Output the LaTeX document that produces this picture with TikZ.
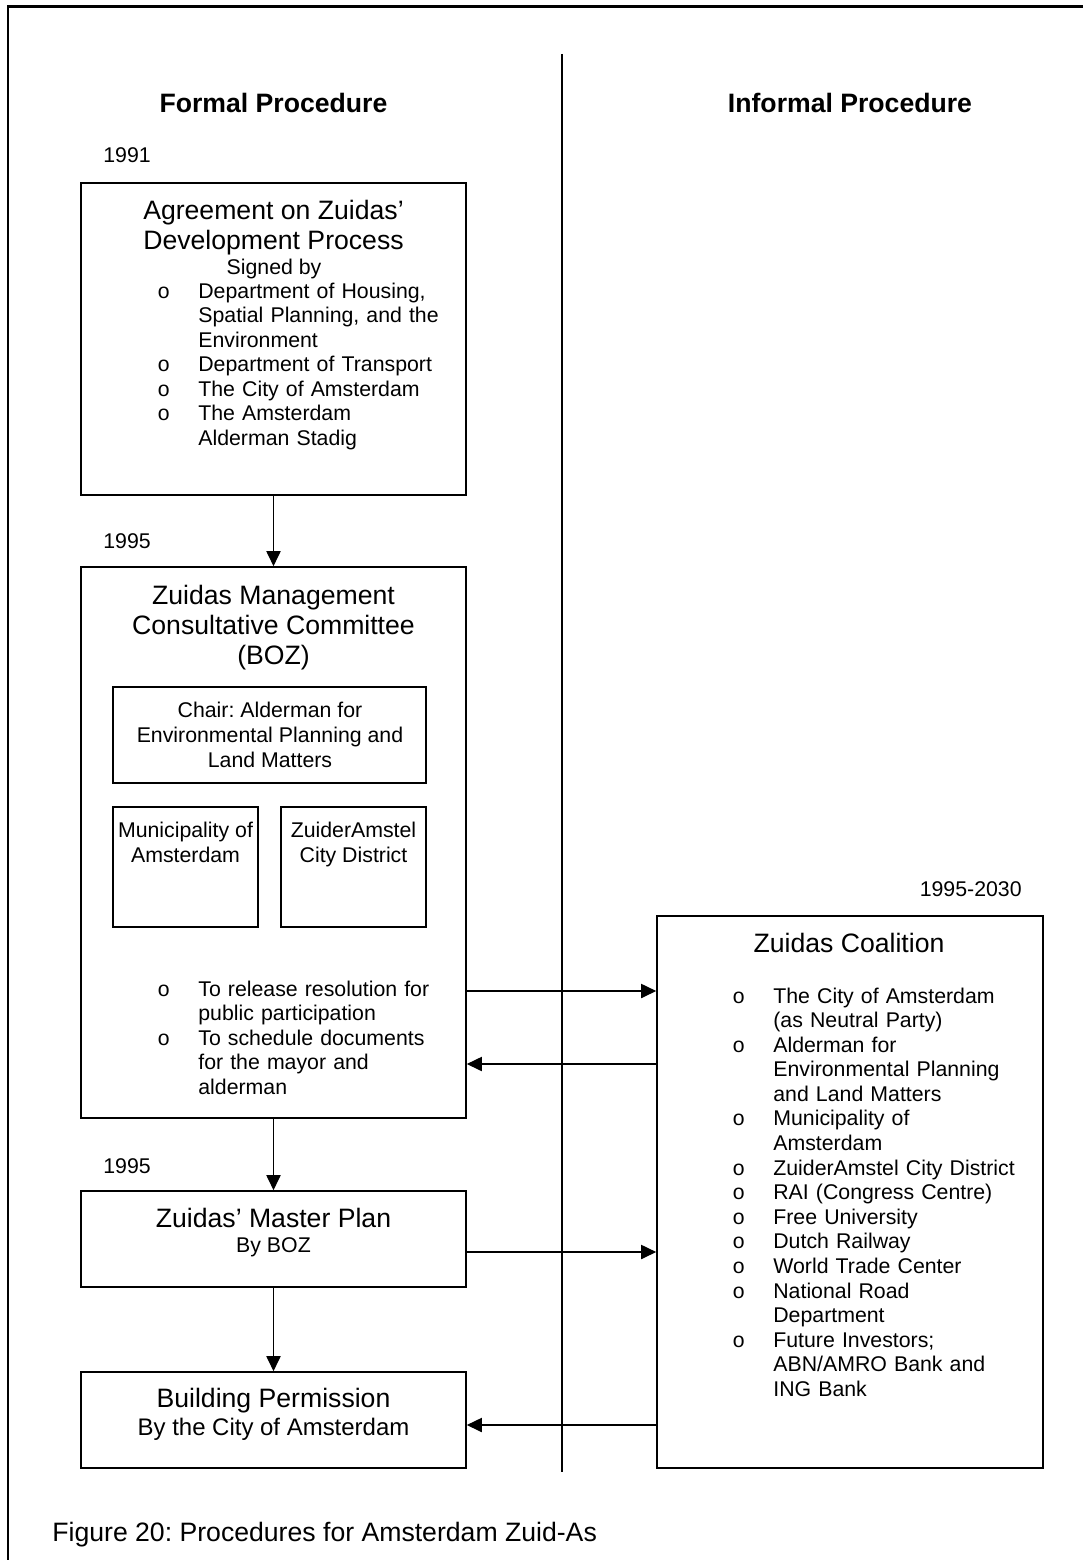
\documentclass[tikz,border=0pt]{standalone}
\usepackage{fontspec}
\setmainfont{Liberation Sans}
\newfontfamily\bulfont{Liberation Mono}
\usetikzlibrary{arrows.meta}
\frenchspacing

\newcommand{\pxl}{0.5634pt}
\newcommand{\bul}[1]{\noindent\hangindent=23.1pt\hangafter=1\makebox[23.1pt][l]{\bulfont o}#1\par}

\tikzset{
  box/.style={draw, line width=0.9pt, inner sep=0pt},
  arr/.style={line width=0.8pt, -{Triangle[length=8.5pt,width=8pt]}},
  ttl/.style={font=\fontsize{15}{16.9}\selectfont, align=center, anchor=base, inner sep=0pt},
  txt/.style={font=\fontsize{12}{13.9}\selectfont, align=center, anchor=base, inner sep=0pt},
  lst/.style={font=\fontsize{12}{13.85}\selectfont, text width=#1, align=left, anchor=base west, inner sep=0pt},
  yr/.style={font=\fontsize{12}{13.9}\selectfont, anchor=base west, inner sep=0pt},
}

\begin{document}
\begin{tikzpicture}[x=0.5634pt, y=-0.5634pt]
\useasboundingbox (0,0) rectangle (1083,1560);

% frame and divider
\draw[line width=1.2pt] (8,1560) -- (8,6.5) -- (1083,6.5);
\draw[line width=0.8pt] (562,54) -- (562,1472);

\node[ttl, font=\fontsize{15}{16.9}\selectfont\bfseries] (formal) at (273.5,113) {Formal Procedure};
\node[ttl, font=\fontsize{15}{16.9}\selectfont\bfseries] (informal) at (850,113) {Informal Procedure};

% years
\node[yr] (y1991) at (103,163) {1991};
\node[yr] (y1995a) at (103,548) {1995};
\node[yr] (y1995b) at (103,1173) {1995};
\node[yr, anchor=base east] (y2030) at (1022,896) {1995-2030};

% boxes
\node[box, minimum width=385*\pxl, minimum height=312*\pxl] (agree) at (273.5,339) {};
\node[box, minimum width=385*\pxl, minimum height=551*\pxl] (boz) at (273.5,842.5) {};
\node[box, minimum width=313*\pxl, minimum height=96*\pxl] (chair) at (269.5,735) {};
\node[box, minimum width=145*\pxl, minimum height=120*\pxl] (muni) at (185.5,867) {};
\node[box, minimum width=145*\pxl, minimum height=120*\pxl] (zuider) at (353.5,867) {};
\node[box, minimum width=386*\pxl, minimum height=552*\pxl] (coal) at (850,1192) {};
\node[box, minimum width=385*\pxl, minimum height=96*\pxl] (plan) at (273.5,1239) {};
\node[box, minimum width=385*\pxl, minimum height=96*\pxl] (permit) at (273.5,1420) {};

% agreement (multi-line nodes sit on their last line)
\node[ttl] (agreett) at (273.5,249) {Agreement on Zuidas'\\Development Process};
\node[txt] (signed) at (274,274) {Signed by};
\node[lst=200pt] (agreelst) at (157,298) {%
\bul{Department of Housing,\newline Spatial Planning, and the\newline Environment}%
\bul{Department of Transport}%
\bul{The City of Amsterdam}%
\bul{The Amsterdam\newline Alderman Stadig}};

% management committee
\node[ttl] (boztt) at (273.5,664) {Zuidas Management\\Consultative Committee\\(BOZ)};
\node[txt] (chairtt) at (270,767) {Chair: Alderman for\\Environmental Planning and\\Land Matters};
\node[txt] (munitt) at (185.5,862) {Municipality of\\Amsterdam};
\node[txt] (zuidertt) at (353.5,862) {ZuiderAmstel\\City District};
\node[lst=170pt] (bozlst) at (157,996) {%
\bul{To release resolution for\newline public participation}%
\bul{To schedule documents\newline for the mayor and\newline alderman}};

% coalition
\node[ttl] (coaltt) at (849,952) {Zuidas Coalition};
\node[lst=170pt] (coallst) at (732,1003) {%
\bul{The City of Amsterdam\newline (as Neutral Party)}%
\bul{Alderman for\newline Environmental Planning\newline and Land Matters}%
\bul{Municipality of\newline Amsterdam}%
\bul{ZuiderAmstel City District}%
\bul{RAI (Congress Centre)}%
\bul{Free University}%
\bul{Dutch Railway}%
\bul{World Trade Center}%
\bul{National Road\newline Department}%
\bul{Future Investors;\newline ABN/AMRO Bank and\newline ING Bank}};

% master plan and permission
\node[ttl] (plantt) at (273.5,1227) {Zuidas' Master Plan};
\node[txt] (planby) at (273.5,1252) {By BOZ};
\node[ttl] (permittt) at (273.5,1407) {Building Permission};
\node[txt, font=\fontsize{13.5}{15}\selectfont] (permitby) at (273.5,1435) {By the City of Amsterdam};

% arrows
\draw[arr] (agree.south) -- (boz.north);
\draw[arr] (boz.south) -- (plan.north);
\draw[arr] (plan.south) -- (permit.north);
\draw[arr] (boz.east |- 0,991) -- (coal.west |- 0,991);
\draw[arr] (coal.west |- 0,1064) -- (boz.east |- 0,1064);
\draw[arr] (plan.east |- 0,1252) -- (coal.west |- 0,1252);
\draw[arr] (coal.west |- 0,1425) -- (permit.east |- 0,1425);

\node[anchor=base west, inner sep=0pt, font=\fontsize{15}{16.9}\selectfont] (caption) at (52,1541) {Figure 20: Procedures for Amsterdam Zuid-As};
\end{tikzpicture}
\end{document}
